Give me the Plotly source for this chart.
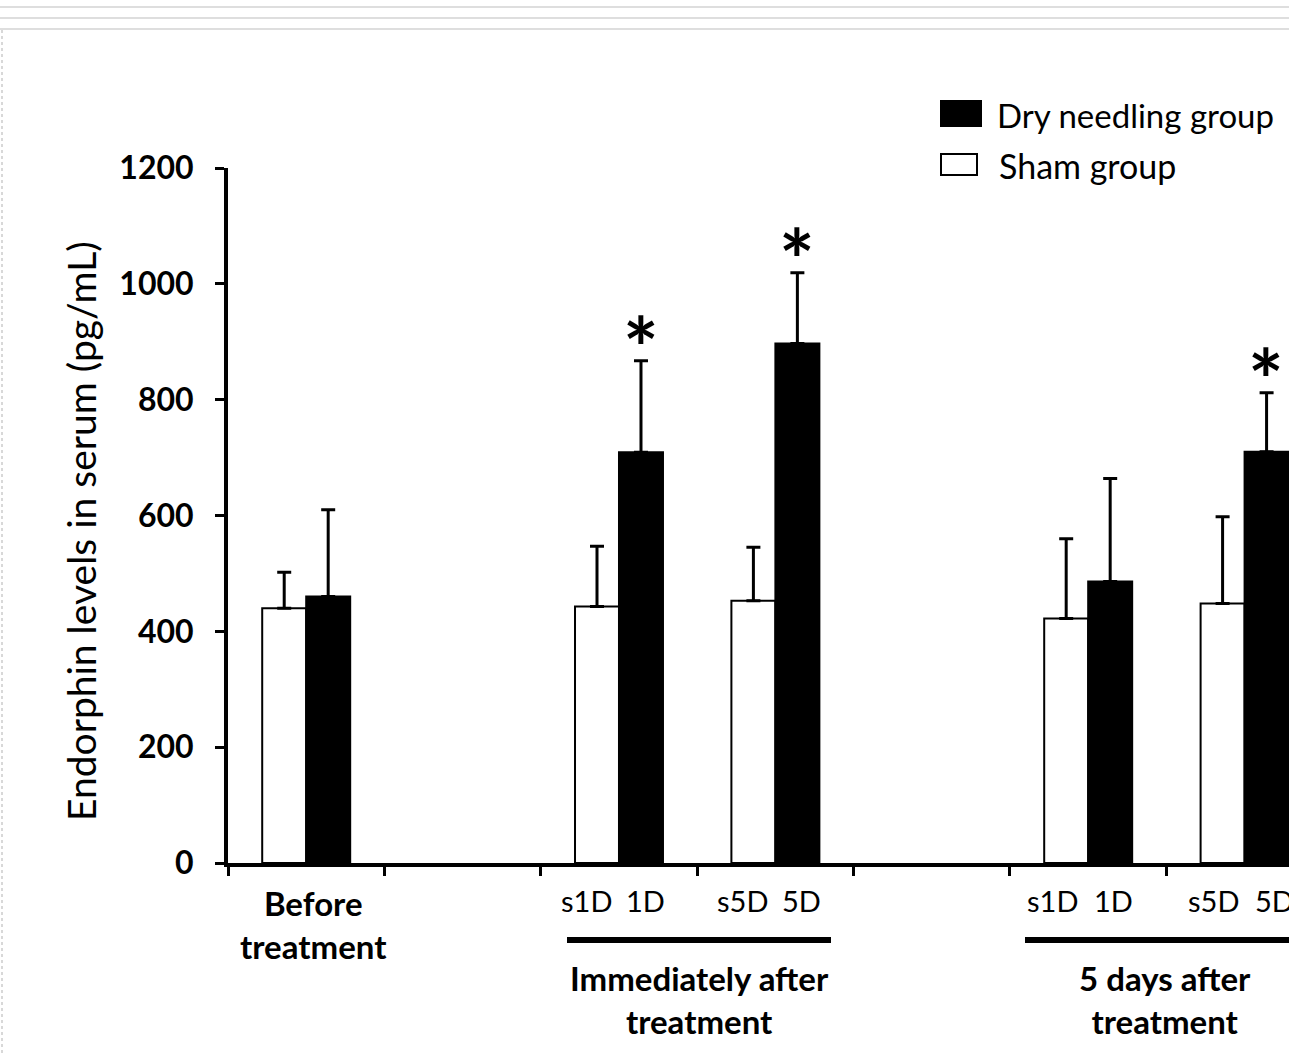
import plotly.graph_objects as go

# ---- data ----
x_pos = [0, 2, 3, 5, 6]              # category slots (1 and 4 are empty spacers)
sham_mean = [440, 443, 453, 422, 448]
sham_err = [62, 104, 92, 138, 150]
dry_mean = [460, 709, 897, 486, 710]
dry_err = [150, 158, 122, 178, 102]
star_pos = [2, 3, 6]
star_y = [867, 1019, 812]
y_ticks = [0, 200, 400, 600, 800, 1000, 1200]
bar_labels = [("s1D", 2, -0.21), ("1D", 2, 0.17), ("s5D", 3, -0.21), ("5D", 3, 0.17),
              ("s1D", 5, -0.23), ("1D", 5, 0.16), ("s5D", 6, -0.20), ("5D", 6, 0.19)]
legend_names = ["Dry needling group", "Sham group"]

FONT = "Lato, Carlito, Calibri, sans-serif"
W, H = 1289, 1055
L, T, B = 228, 168, 192
PW = W - L
PH = H - T - B

def px(x):
    return (x - L) / PW

def py(y):
    return (H - B - y) / PH

fig = go.Figure()
fig.add_trace(go.Bar(
    x=x_pos, y=sham_mean, name=legend_names[1],
    marker=dict(color="white", line=dict(color="black", width=2)),
    error_y=dict(type="data", array=sham_err, arrayminus=[0] * len(sham_err),
                 symmetric=False, color="black", thickness=3, width=7),
    showlegend=False,
))
fig.add_trace(go.Bar(
    x=x_pos, y=dry_mean, name=legend_names[0],
    marker=dict(color="black", line=dict(color="black", width=2)),
    error_y=dict(type="data", array=dry_err, arrayminus=[0] * len(dry_err),
                 symmetric=False, color="black", thickness=3, width=7),
    showlegend=False,
))

annotations = []
# significance stars
for xs, ys in zip(star_pos, star_y):
    annotations.append(dict(x=xs + 0.14, y=ys, xref="x", yref="y", text="<b>*</b>",
                            showarrow=False, xanchor="center", yanchor="middle", yshift=14,
                            font=dict(family=FONT, size=84, color="black")))
# per-bar labels
for txt, c, off in bar_labels:
    annotations.append(dict(x=c + off, y=py(900), xref="x", yref="paper", text=txt,
                            showarrow=False, xanchor="center", yanchor="middle",
                            font=dict(family=FONT, size=29, color="black")))
# group labels
grp = [("<b>Before<br>treatment</b>", 313, 924),
       ("<b>Immediately after<br>treatment</b>", 699, 999),
       ("<b>5 days after<br>treatment</b>", 1165, 999)]
for txt, gx, gy in grp:
    annotations.append(dict(x=px(gx), y=py(gy), xref="paper", yref="paper",
                            text=txt, showarrow=False, xanchor="center", yanchor="middle",
                            font=dict(family=FONT, size=33, color="black")))
# y-axis title
annotations.append(dict(x=px(81), y=py(531), xref="paper", yref="paper",
                        text="Endorphin levels in serum (pg/mL)", textangle=-90,
                        showarrow=False, xanchor="center", yanchor="middle",
                        font=dict(family=FONT, size=39, color="black")))
# legend text
annotations.append(dict(x=px(995), y=py(115), xref="paper", yref="paper", xanchor="left",
                        yanchor="middle", text=legend_names[0], showarrow=False,
                        font=dict(family=FONT, size=33, color="black")))
annotations.append(dict(x=px(997), y=py(165), xref="paper", yref="paper", xanchor="left",
                        yanchor="middle", text=legend_names[1], showarrow=False,
                        font=dict(family=FONT, size=34, color="black")))

shapes = []
# legend boxes
shapes.append(dict(type="rect", xref="paper", yref="paper",
                   x0=px(941), x1=px(981), y0=py(101), y1=py(126),
                   fillcolor="black", line=dict(color="black", width=2)))
shapes.append(dict(type="rect", xref="paper", yref="paper",
                   x0=px(941), x1=px(977), y0=py(154), y1=py(175),
                   fillcolor="white", line=dict(color="black", width=2)))
# group underlines
shapes.append(dict(type="line", xref="paper", yref="paper",
                   x0=px(567), x1=px(831), y0=py(940), y1=py(940),
                   line=dict(color="black", width=6)))
shapes.append(dict(type="line", xref="paper", yref="paper",
                   x0=px(1025), x1=px(1295), y0=py(940), y1=py(940),
                   line=dict(color="black", width=6)))
# page decoration (top gray rules, dotted left edge)
for yy in [7, 18, 29]:
    shapes.append(dict(type="line", xref="paper", yref="paper",
                       x0=px(0), x1=px(1289), y0=py(yy), y1=py(yy),
                       line=dict(color="#dedede", width=2)))
shapes.append(dict(type="line", xref="paper", yref="paper",
                   x0=px(2), x1=px(2), y0=py(30), y1=py(1055),
                   line=dict(color="#d8d8d8", width=2, dash="dot")))

fig.update_layout(
    width=W, height=H,
    margin=dict(l=L, r=0, t=T, b=B, pad=0),
    paper_bgcolor="white", plot_bgcolor="white",
    barmode="group", bargap=0.4375, bargroupgap=0,
    annotations=annotations, shapes=shapes,
    xaxis=dict(range=[-0.5, 6.284], showgrid=False, zeroline=False,
               showline=True, linecolor="black", linewidth=4,
               tickvals=[-0.5, 0.5, 1.5, 2.5, 3.5, 4.5, 5.5],
               ticks="outside", ticklen=9, tickwidth=3, tickcolor="black",
               showticklabels=False),
    yaxis=dict(range=[0, 1200], showgrid=False, zeroline=False,
               showline=True, linecolor="black", linewidth=4,
               tickvals=y_ticks, ticks="outside", ticklen=9, tickwidth=3,
               tickcolor="black", ticklabelstandoff=15,
               tickfont=dict(family=FONT, size=32, color="black", weight="bold")),
    font=dict(family=FONT, color="black"),
)

fig.write_html("out.html", config={"displayModeBar": False},
               post_script="document.body.style.margin='0';document.body.style.overflow='hidden';")
